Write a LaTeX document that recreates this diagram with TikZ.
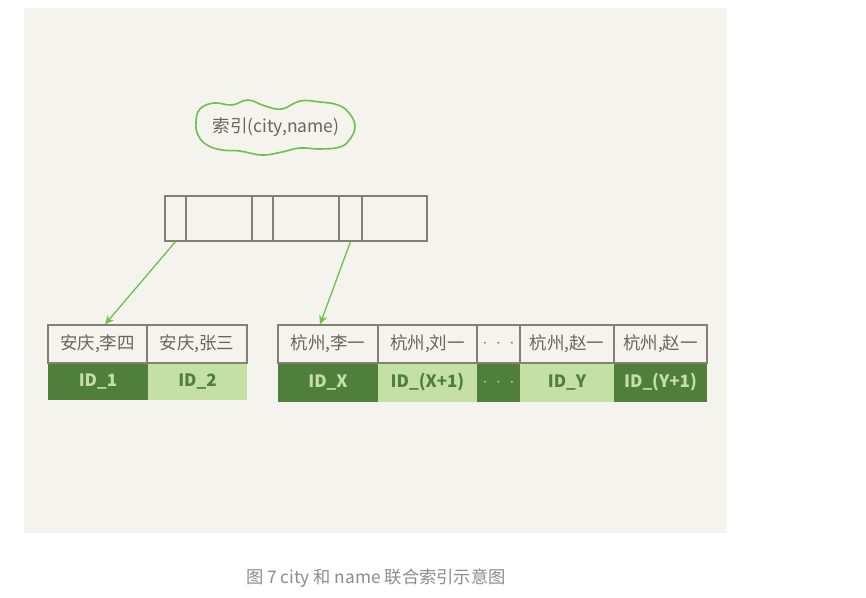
\documentclass[tikz,border=0pt]{standalone}
\usepackage{fontspec}
\setmainfont{Noto Sans CJK SC}
\usetikzlibrary{arrows.meta}
\definecolor{bg}{HTML}{F4F3EE}
\definecolor{bordc}{HTML}{858170}
\definecolor{txt}{HTML}{6B6658}
\definecolor{dk}{HTML}{4F7F3B}
\definecolor{lt}{HTML}{C5E0A5}
\definecolor{arr}{HTML}{6CC24A}
\definecolor{cap}{HTML}{8C8C8C}
\newcommand{\mydots}{$\cdot\;\cdot\;\cdot$}
\tikzset{
  cell/.style={draw=bordc, line width=1.2pt, inner sep=0pt, minimum height=38pt, text=txt, font=\fontsize{17.5}{19}\selectfont},
  kcell/.style={draw=bordc, line width=1.2pt, inner sep=0pt, minimum height=45pt},
  dcell/.style={fill=dk, inner sep=0pt, minimum height=38pt, text=lt, font=\fontsize{17}{19}\selectfont\bfseries},
  lcell/.style={fill=lt, inner sep=0pt, minimum height=38pt, text=dk, font=\fontsize{17}{19}\selectfont\bfseries},
  ptr/.style={draw=arr, line width=1.3pt, -{Stealth[length=9pt,width=8pt]}},
  cloudline/.style={draw=arr, line width=1.6pt}
}
\begin{document}
\begin{tikzpicture}[x=1pt,y=-1pt]
\useasboundingbox (0,0) rectangle (866,597);
\fill[white] (0,0) rectangle (866,597);
\fill[bg] (24,8) rectangle (727,533);

% cloud
\draw[cloudline] plot[smooth cycle, tension=0.7] coordinates {
 (196,122) (200,109) (214,103) (232,105) (248,100) (265,106) (282,109) (300,101)
 (320,102) (338,105) (349,113) (355,126) (350,139) (340,147) (320,149) (300,148)
 (282,152) (262,155) (240,151) (222,150) (207,145) (198,135)};
\node[text=txt, inner sep=0pt, font=\fontsize{17.5}{19}\selectfont] (cl) at (276,127) {索引(city,name)};

% index node
\node[kcell, minimum width=21pt] (k1) at (175.5,218.5) {};
\node[kcell, minimum width=66pt] (k2) at (219,218.5) {};
\node[kcell, minimum width=21pt] (k3) at (262.5,218.5) {};
\node[kcell, minimum width=66pt] (k4) at (306,218.5) {};
\node[kcell, minimum width=23pt] (k5) at (350.5,218.5) {};
\node[kcell, minimum width=65pt] (k6) at (394.5,218.5) {};

% left leaf
\node[dcell, minimum width=100pt, minimum height=37pt] (id1) at (98,381.5) {ID\_1};
\node[lcell, minimum width=99pt, minimum height=37pt] (id2) at (197.5,381.5) {ID\_2};
\node[cell, minimum width=99pt] (a1) at (97.5,344) {安庆,李四};
\node[cell, minimum width=100pt] (a2) at (197,344) {安庆,张三};

% right leaf
\node[dcell, minimum width=100pt, minimum height=39pt] (ix) at (328,382.5) {ID\_X};
\node[lcell, minimum width=99pt, minimum height=39pt] (ix1) at (427.5,382.5) {ID\_(X+1)};
\node[dcell, minimum width=43pt, minimum height=39pt] (idots) at (498.5,382.5) {\mydots};
\node[lcell, minimum width=94pt, minimum height=39pt] (iy) at (567,382.5) {ID\_Y};
\node[dcell, minimum width=93pt, minimum height=39pt] (iy1) at (660.5,382.5) {ID\_(Y+1)};
\node[cell, minimum width=100pt] (c1) at (328,344) {杭州,李一};
\node[cell, minimum width=99pt] (c2) at (427.5,344) {杭州,刘一};
\node[cell, minimum width=43pt] (c3) at (498.5,344) {\mydots};
\node[cell, minimum width=94pt] (c4) at (567,344) {杭州,赵一};
\node[cell, minimum width=93pt] (c5) at (660.5,344) {杭州,赵一};

% pointers
\draw[ptr] (k1.south) -- ([xshift=7.5pt]a1.north);
\draw[ptr] (k5.south) -- ([xshift=-8pt]c1.north);

% caption
\node[text=cap, font=\fontsize{17.3}{19}\selectfont] (capt) at (376,578) {图 7 city 和 name 联合索引示意图};
\end{tikzpicture}
\end{document}
